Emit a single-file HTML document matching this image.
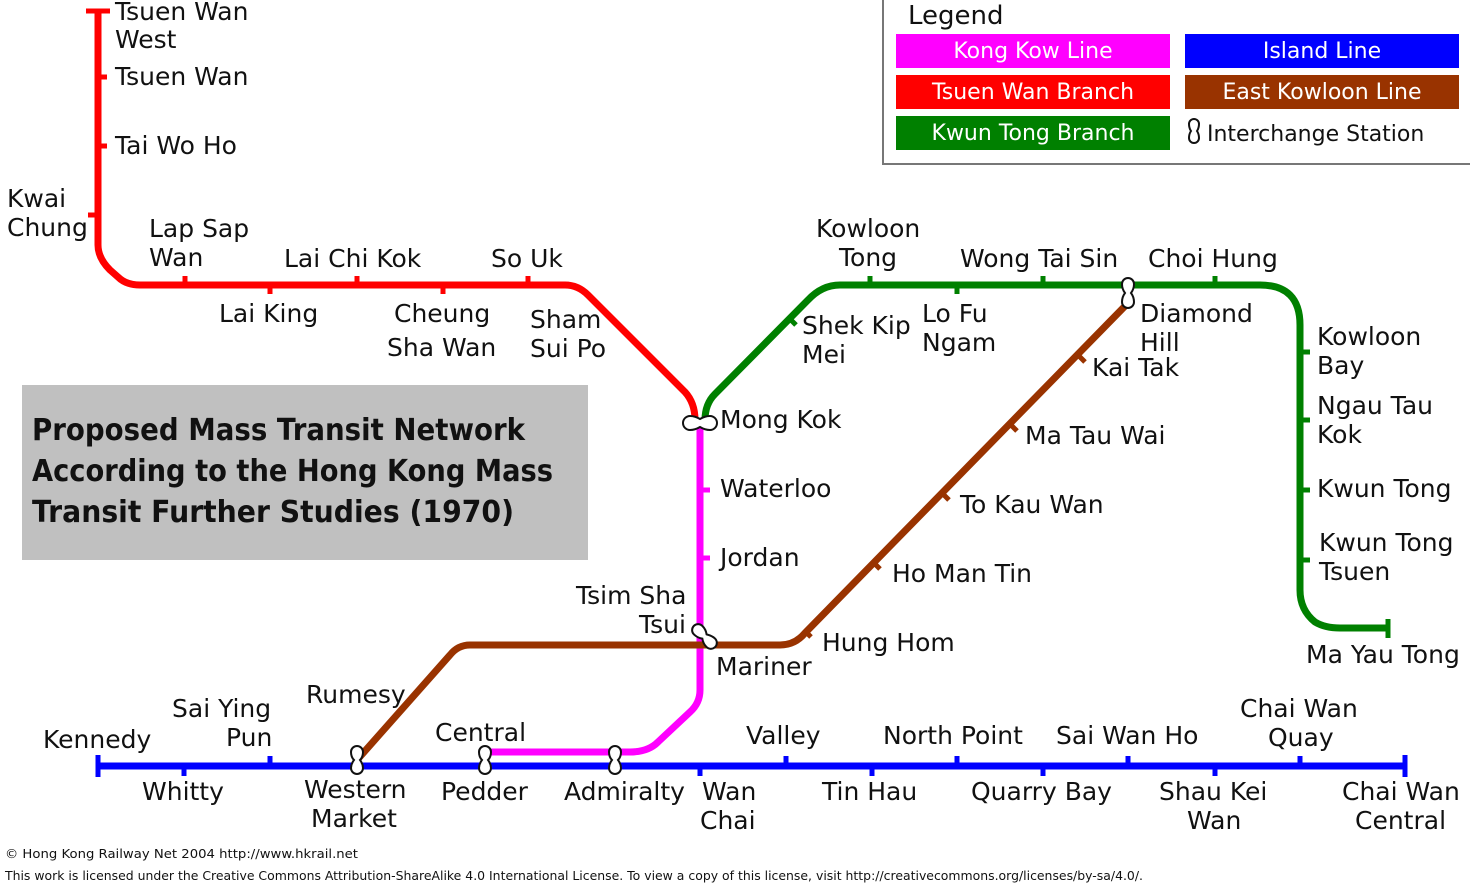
<!DOCTYPE html>
<html><head><meta charset="utf-8"><style>
html,body{margin:0;padding:0;background:#fff;width:1470px;height:885px;overflow:hidden}
svg{display:block}
text{font-family:"DejaVu Sans","Liberation Sans",sans-serif;font-size:25px;fill:#111}
.s{font-size:12.5px}
.t{font-size:30px;font-weight:bold;fill:#111}
.lg{fill:#fff;font-size:22px;text-anchor:middle}
</style></head><body>
<svg width="1470" height="885" viewBox="0 0 1470 885" xmlns="http://www.w3.org/2000/svg">
<rect x="22" y="385" width="566" height="175" fill="#c0c0c0"/>
<text class="t" x="32" y="440" textLength="493" lengthAdjust="spacingAndGlyphs">Proposed Mass Transit Network</text>
<text class="t" x="32" y="481" textLength="521" lengthAdjust="spacingAndGlyphs">According to the Hong Kong Mass</text>
<text class="t" x="32" y="522" textLength="482" lengthAdjust="spacingAndGlyphs">Transit Further Studies (1970)</text>

<rect x="883" y="-2" width="600" height="166" fill="#fff" stroke="#777" stroke-width="2"/>
<text x="908" y="24" style="font-size:26px">Legend</text>
<rect x="896" y="34" width="274" height="34" fill="#ff00ff"/><text class="lg" x="1033" y="58">Kong Kow Line</text>
<rect x="1185" y="34" width="274" height="34" fill="#0000ff"/><text class="lg" x="1322" y="58">Island Line</text>
<rect x="896" y="75" width="274" height="34" fill="#ff0000"/><text class="lg" x="1033" y="99">Tsuen Wan Branch</text>
<rect x="1185" y="75" width="274" height="34" fill="#993300"/><text class="lg" x="1322" y="99">East Kowloon Line</text>
<rect x="896" y="116" width="274" height="34" fill="#008000"/><text class="lg" x="1033" y="140">Kwun Tong Branch</text>
<path d="M1189,124 a5,5 0 0 1 10,0 q0,4 -2,7 q2,3 2,7 a5,5 0 0 1 -10,0 q0,-4 2,-7 q-2,-3 -2,-7z" fill="#fff" stroke="#111" stroke-width="2"/>
<text x="1207" y="141" style="font-size:22px">Interchange Station</text>

<g fill="none" stroke-width="7">
<path stroke="#ff0000" d="M98,11 V245 Q98,258 110,270 L118,277 Q126,285 140,285 H565 Q578,285 588,295 L685,392 Q695,403 695,420"/>
<path stroke="#ff0000" stroke-width="5" d="M86,11 H110 M98,77 H107 M98,146 H107 M98,215 H88 M185,285 V276 M270,285 V294 M357,285 V276 M443,285 V294 M528,285 V276 M606,313 L613,320"/>
<path stroke="#008000" d="M705,420 Q705,404 715,394 L808,300 Q822,285 840,285 H1260 Q1300,285 1300,325 V590 Q1300,610 1315,622 Q1325,628 1340,628 H1388"/>
<path stroke="#008000" stroke-width="5" d="M789,318 L796,325 M870,285 V276 M957,285 V294 M1043,285 V276 M1215,285 V276 M1300,352 H1310 M1300,420 H1310 M1300,490 H1310 M1300,560 H1310 M1388,619 V638"/>
<path stroke="#ff00ff" d="M700,425 V690 Q700,703 690,712 L658,742 Q648,752 630,752 H485"/>
<path stroke="#ff00ff" stroke-width="5" d="M700,490 H710 M700,558 H710"/>
<path stroke="#993300" d="M1128,303 L805,633 Q795,645 780,645 H470 Q458,645 450,655 L357,760"/>
<path stroke="#993300" stroke-width="5" d="M1078,355 L1085,362 M1010,424 L1017,431 M942,493 L949,500 M873,562 L880,569 M804,630 L811,637"/>
<path stroke="#0000ff" d="M98,766 H1405"/>
<path stroke="#0000ff" stroke-width="5" d="M98,755 V777 M1405,755 V777 M184,766 V776 M270,766 V756 M700,766 V776 M786,766 V756 M872,766 V776 M957,766 V756 M1043,766 V776 M1128,766 V756 M1215,766 V776 M1300,766 V756"/>
</g>
<g fill="#fff" stroke="#111" stroke-width="2">
<path d="M690,416 a7,7 0 0 0 0,14 q5,0 10,-3 q5,3 10,3 a7,7 0 0 0 0,-14 q-5,0 -10,3 q-5,-3 -10,-3z"/>
<path d="M1122,284 a6,6 0 0 1 12,0 q0,5 -3,9 q3,4 3,9 a6,6 0 0 1 -12,0 q0,-5 3,-9 q-3,-4 -3,-9z"/>
<path d="M351,752 a6,6 0 0 1 12,0 q0,5 -3,8 q3,4 3,8 a6,6 0 0 1 -12,0 q0,-4 3,-8 q-3,-3 -3,-8z"/>
<path d="M479,752 a6,6 0 0 1 12,0 q0,5 -3,8 q3,4 3,8 a6,6 0 0 1 -12,0 q0,-4 3,-8 q-3,-3 -3,-8z"/>
<path d="M609,752 a6,6 0 0 1 12,0 q0,5 -3,8 q3,4 3,8 a6,6 0 0 1 -12,0 q0,-4 3,-8 q-3,-3 -3,-8z"/>
<g transform="rotate(-45 708 640)"><path d="M702,626 a6,6 0 0 1 12,0 q0,5 -3,9 q3,5 3,9 a6,6 0 0 1 -12,0 q0,-5 3,-9 q-3,-4 -3,-9z"/></g>
</g>

<text x="115" y="20">Tsuen Wan</text><text x="115" y="48">West</text>
<text x="115" y="85">Tsuen Wan</text>
<text x="115" y="154">Tai Wo Ho</text>
<text x="7" y="207">Kwai</text><text x="7" y="236">Chung</text>
<text x="149" y="237">Lap Sap</text><text x="149" y="266">Wan</text>
<text x="219" y="322">Lai King</text>
<text x="284" y="267">Lai Chi Kok</text>
<text x="394" y="322">Cheung</text><text x="387" y="356">Sha Wan</text>
<text x="491" y="267">So Uk</text>
<text x="530" y="328">Sham</text><text x="530" y="357">Sui Po</text>
<text x="816" y="237">Kowloon</text><text x="839" y="266">Tong</text>
<text x="802" y="334">Shek Kip</text><text x="802" y="363">Mei</text>
<text x="922" y="322">Lo Fu</text><text x="922" y="351">Ngam</text>
<text x="960" y="267">Wong Tai Sin</text>
<text x="1148" y="267">Choi Hung</text>
<text x="1140" y="322">Diamond</text><text x="1140" y="351">Hill</text>
<text x="1092" y="376">Kai Tak</text>
<text x="1317" y="345">Kowloon</text><text x="1317" y="374">Bay</text>
<text x="1317" y="414">Ngau Tau</text><text x="1317" y="443">Kok</text>
<text x="1317" y="497">Kwun Tong</text>
<text x="1319" y="551">Kwun Tong</text><text x="1319" y="580">Tsuen</text>
<text x="1306" y="663">Ma Yau Tong</text>
<text x="720" y="428">Mong Kok</text>
<text x="720" y="497">Waterloo</text>
<text x="720" y="566">Jordan</text>
<text x="576" y="604">Tsim Sha</text><text x="639" y="633">Tsui</text>
<text x="716" y="675">Mariner</text>
<text x="1025" y="444">Ma Tau Wai</text>
<text x="960" y="513">To Kau Wan</text>
<text x="892" y="582">Ho Man Tin</text>
<text x="822" y="651">Hung Hom</text>
<text x="306" y="703">Rumesy</text>
<text x="172" y="717">Sai Ying</text><text x="226" y="746">Pun</text>
<text x="43" y="748">Kennedy</text>
<text x="435" y="741">Central</text>
<text x="746" y="744">Valley</text>
<text x="883" y="744">North Point</text>
<text x="1056" y="744">Sai Wan Ho</text>
<text x="1240" y="717">Chai Wan</text><text x="1268" y="746">Quay</text>
<text x="142" y="800">Whitty</text>
<text x="304" y="798">Western</text><text x="311" y="827">Market</text>
<text x="441" y="800">Pedder</text>
<text x="564" y="800">Admiralty</text>
<text x="702" y="800">Wan</text><text x="700" y="829">Chai</text>
<text x="822" y="800">Tin Hau</text>
<text x="971" y="800">Quarry Bay</text>
<text x="1159" y="800">Shau Kei</text><text x="1187" y="829">Wan</text>
<text x="1342" y="800">Chai Wan</text><text x="1355" y="829">Central</text>

<text class="s" x="5" y="858" textLength="353" lengthAdjust="spacingAndGlyphs">© Hong Kong Railway Net 2004 http://www.hkrail.net</text>
<text class="s" x="5" y="880" style="font-size:12px" textLength="1138" lengthAdjust="spacingAndGlyphs">This work is licensed under the Creative Commons Attribution-ShareAlike 4.0 International License. To view a copy of this license, visit http://creativecommons.org/licenses/by-sa/4.0/.</text>
</svg>
</body></html>
